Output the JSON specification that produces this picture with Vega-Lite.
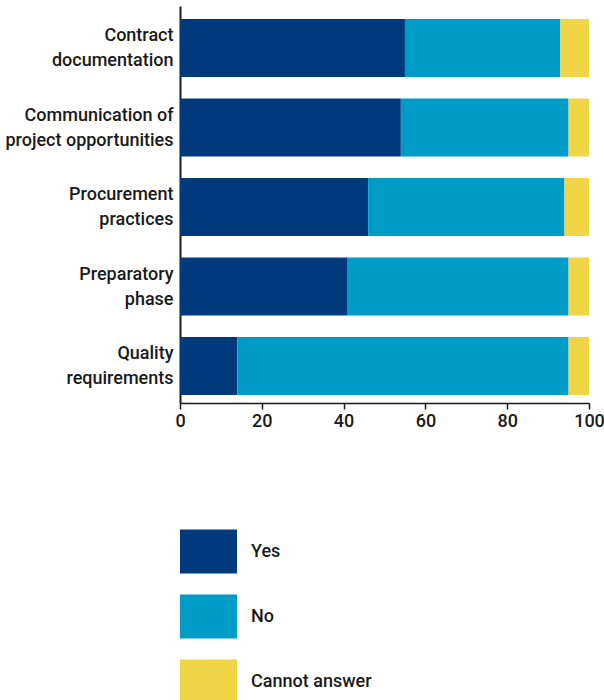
{
  "$schema": "https://vega.github.io/schema/vega-lite/v6.json",
  "width": 409,
  "height": 397,
  "padding": {"left": 180, "top": 6, "right": 15, "bottom": 297},
  "autosize": {"type": "none"},
  "background": "white",
  "config": {
    "view": {"stroke": null},
    "font": "Roboto",
    "axis": {"labelFont": "Roboto", "labelFontWeight": 500, "labelColor": "#1a1a1a", "labelFontSize": 18, "grid": false, "domainColor": "#1a1a1a", "tickColor": "#1a1a1a"},
    "legend": {"labelFont": "Roboto", "labelFontWeight": 500, "labelColor": "#1a1a1a", "labelFontSize": 18}
  },
  "data": {
    "values": [
      {"area": "Contract documentation", "answer": "Yes", "order": 1, "value": 55},
      {"area": "Contract documentation", "answer": "No", "order": 2, "value": 38},
      {"area": "Contract documentation", "answer": "Cannot answer", "order": 3, "value": 7},
      {"area": "Communication of project opportunities", "answer": "Yes", "order": 1, "value": 54},
      {"area": "Communication of project opportunities", "answer": "No", "order": 2, "value": 41},
      {"area": "Communication of project opportunities", "answer": "Cannot answer", "order": 3, "value": 5},
      {"area": "Procurement practices", "answer": "Yes", "order": 1, "value": 46},
      {"area": "Procurement practices", "answer": "No", "order": 2, "value": 48},
      {"area": "Procurement practices", "answer": "Cannot answer", "order": 3, "value": 6},
      {"area": "Preparatory phase", "answer": "Yes", "order": 1, "value": 41},
      {"area": "Preparatory phase", "answer": "No", "order": 2, "value": 54},
      {"area": "Preparatory phase", "answer": "Cannot answer", "order": 3, "value": 5},
      {"area": "Quality requirements", "answer": "Yes", "order": 1, "value": 14},
      {"area": "Quality requirements", "answer": "No", "order": 2, "value": 81},
      {"area": "Quality requirements", "answer": "Cannot answer", "order": 3, "value": 5}
    ]
  },
  "mark": {"type": "bar"},
  "encoding": {
    "y": {
      "field": "area",
      "type": "nominal",
      "sort": ["Contract documentation", "Communication of project opportunities", "Procurement practices", "Preparatory phase", "Quality requirements"],
      "scale": {"paddingInner": 0.27, "paddingOuter": 0.132, "align": 0.62},
      "axis": {
        "title": null,
        "ticks": false,
        "domainWidth": 2,
        "labelPadding": 7,
        "labelLineHeight": 25,
        "labelOffset": -12,
        "labelLimit": 200,
        "labelExpr": "datum.label == 'Contract documentation' ? ['Contract', 'documentation'] : datum.label == 'Communication of project opportunities' ? ['Communication of', 'project opportunities'] : datum.label == 'Procurement practices' ? ['Procurement', 'practices'] : datum.label == 'Preparatory phase' ? ['Preparatory', 'phase'] : ['Quality', 'requirements']"
      }
    },
    "x": {
      "field": "value",
      "type": "quantitative",
      "stack": "zero",
      "scale": {"domain": [0, 100], "nice": false},
      "axis": {"title": null, "values": [0, 20, 40, 60, 80, 100], "tickSize": 6, "tickWidth": 1.5, "domainWidth": 1.5, "labelPadding": 3, "labelFlush": false}
    },
    "order": {"field": "order", "type": "quantitative"},
    "color": {
      "field": "answer",
      "type": "nominal",
      "sort": ["Yes", "No", "Cannot answer"],
      "scale": {"domain": ["Yes", "No", "Cannot answer"], "range": ["#003a7d", "#009cc8", "#f0d546"]},
      "legend": {
        "title": null,
        "orient": "none",
        "legendX": 0,
        "legendY": 517,
        "direction": "vertical",
        "symbolType": "M-1,-0.772H1V0.772H-1Z",
        "symbolSize": 3249,
        "symbolStrokeWidth": 0,
        "symbolOpacity": 1,
        "rowPadding": 14,
        "labelOffset": 14
      }
    }
  }
}
